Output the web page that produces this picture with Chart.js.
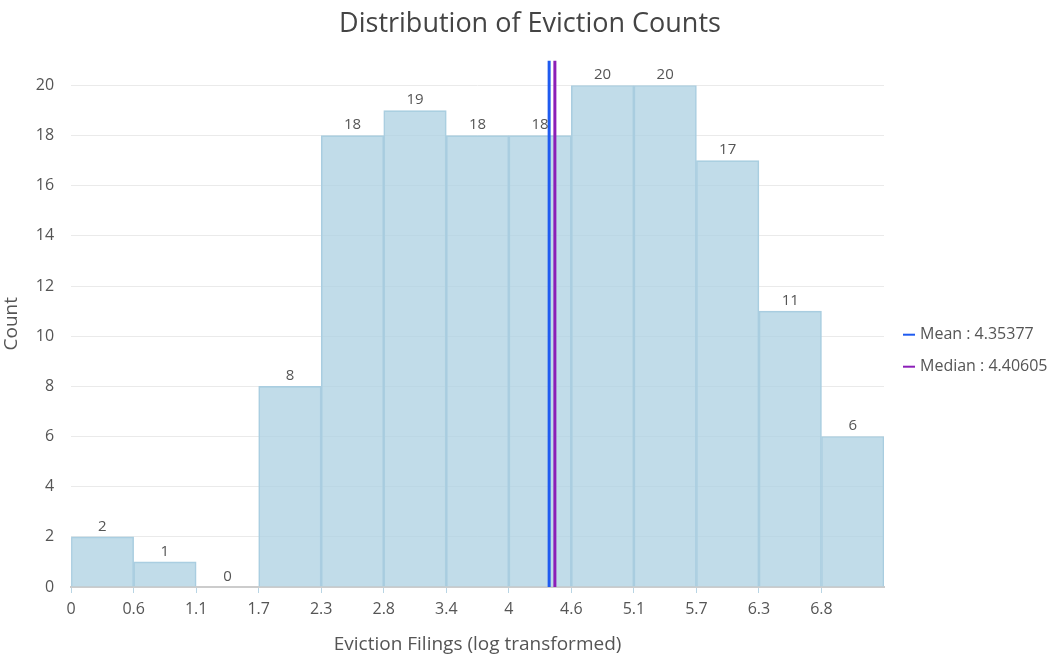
<!DOCTYPE html>
<html>
<head>
<meta charset="utf-8">
<script src="https://cdn.jsdelivr.net/npm/chart.js@4.4.1/dist/chart.umd.min.js"></script>
<style>
  html, body { margin: 0; padding: 0; background: #ffffff; }
  #wrap { width: 1060px; height: 661px; position: relative; }
</style>
</head>
<body>
<div id="wrap"><canvas id="c" width="1060" height="661"></canvas></div>
<script>
// ---- data ----
const binEdges = [0, 0.5695, 1.139, 1.7085, 2.278, 2.8475, 3.417, 3.9865, 4.556, 5.1255, 5.695, 6.2645, 6.834, 7.4035];
const counts = [2, 1, 0, 8, 18, 19, 18, 18, 20, 20, 17, 11, 6];
const xTickLabels = ['0', '0.6', '1.1', '1.7', '2.3', '2.8', '3.4', '4', '4.6', '5.1', '5.7', '6.3', '6.8'];
const meanValue = 4.35377;
const medianValue = 4.40605;
const yMax = 21;

const FONT = "'Open Sans', 'Noto Sans', sans-serif";

const histData = counts.map((c, i) => ({ x: (binEdges[i] + binEdges[i + 1]) / 2, y: c }));

const barLabels = {
  id: 'barLabels',
  afterDatasetsDraw(chart) {
    const meta = chart.getDatasetMeta(2);
    const ctx = chart.ctx;
    ctx.save();
    ctx.font = "15px " + FONT;
    ctx.fillStyle = '#555555';
    ctx.textAlign = 'center';
    ctx.textBaseline = 'bottom';
    meta.data.forEach((el, i) => {
      ctx.fillText(String(counts[i]), el.x, el.y - 3);
    });
    ctx.restore();
  }
};

const sideLegend = {
  id: 'sideLegend',
  afterDraw(chart) {
    const ctx = chart.ctx;
    const area = chart.chartArea;
    const items = chart.data.datasets.filter(ds => ds.type === 'line');
    const x0 = area.right + 19;
    const yMid = (area.top + area.bottom) / 2;
    const gap = 32;
    let y = yMid + 27 - gap * (items.length - 1) / 2;
    ctx.save();
    ctx.font = "16px " + FONT;
    ctx.textBaseline = 'middle';
    ctx.textAlign = 'left';
    items.forEach(ds => {
      ctx.strokeStyle = ds.borderColor;
      ctx.lineWidth = 2;
      ctx.beginPath();
      ctx.moveTo(x0, y);
      ctx.lineTo(x0 + 12, y);
      ctx.stroke();
      ctx.fillStyle = '#555555';
      ctx.fillText(ds.label, x0 + 17, y);
      y += gap;
    });
    ctx.restore();
  }
};

new Chart(document.getElementById('c'), {
  type: 'bar',
  data: {
    datasets: [
      {
        type: 'line',
        label: 'Mean : ' + meanValue,
        data: [{ x: meanValue, y: 0 }, { x: meanValue, y: yMax }],
        borderColor: '#1f5bf0',
        backgroundColor: '#1f5bf0',
        borderWidth: 3,
        pointRadius: 0,
        order: 0
      },
      {
        type: 'line',
        label: 'Median : ' + medianValue,
        data: [{ x: medianValue, y: 0 }, { x: medianValue, y: yMax }],
        borderColor: '#8c1fb8',
        backgroundColor: '#8c1fb8',
        borderWidth: 3,
        pointRadius: 0,
        order: 1
      },
      {
        type: 'bar',
        label: 'Count',
        data: histData,
        backgroundColor: 'rgba(172, 208, 226, 0.75)',
        borderColor: '#a9cde0',
        borderWidth: 1,
        barPercentage: 1,
        categoryPercentage: 1,
        order: 5
      }
    ]
  },
  options: {
    responsive: false,
    animation: false,
    events: [],
    layout: { padding: { left: 0, right: 0, top: 0, bottom: 5 } },
    plugins: {
      title: {
        display: true,
        text: 'Distribution of Eviction Counts',
        color: '#444444',
        font: { family: FONT, size: 27, weight: 'normal' },
        padding: { top: 8, bottom: 20 }
      },
      legend: { display: false },
      tooltip: { enabled: false }
    },
    scales: {
      x: {
        type: 'linear',
        min: binEdges[0],
        max: binEdges[binEdges.length - 1],
        offset: false,
        afterBuildTicks(scale) {
          scale.ticks = binEdges.slice(0, xTickLabels.length).map(v => ({ value: v }));
        },
        ticks: {
          autoSkip: false,
          maxRotation: 0,
          color: '#555555',
          font: { family: FONT, size: 16 },
          padding: 7,
          callback: (v, i) => xTickLabels[i]
        },
        grid: {
          offset: false,
          drawOnChartArea: false,
          drawTicks: true,
          tickLength: 6,
          color: '#b9d5e4'
        },
        border: { display: true, color: '#cccccc', width: 2 },
        title: {
          display: true,
          text: 'Eviction Filings (log transformed)',
          color: '#555555',
          font: { family: FONT, size: 19 },
          padding: { top: 7, bottom: 0 }
        }
      },
      y: {
        min: 0,
        max: yMax,
        afterBuildTicks(scale) {
          scale.ticks = scale.ticks.filter(t => t.value % 2 === 0);
        },
        ticks: {
          stepSize: 2,
          color: '#555555',
          font: { family: FONT, size: 16 },
          padding: 17
        },
        grid: {
          color: '#eaeaea',
          drawTicks: false
        },
        border: { display: false },
        title: {
          display: true,
          text: 'Count',
          color: '#555555',
          font: { family: FONT, size: 19 },
          padding: { top: 0, bottom: -4 }
        }
      },
      legendSpace: {
        position: 'right',
        display: true,
        min: 0,
        max: 1,
        ticks: { display: false },
        grid: { display: false },
        border: { display: false },
        afterFit(scale) { scale.width = 176; }
      }
    }
  },
  plugins: [barLabels, sideLegend]
});
</script>
</body>
</html>
